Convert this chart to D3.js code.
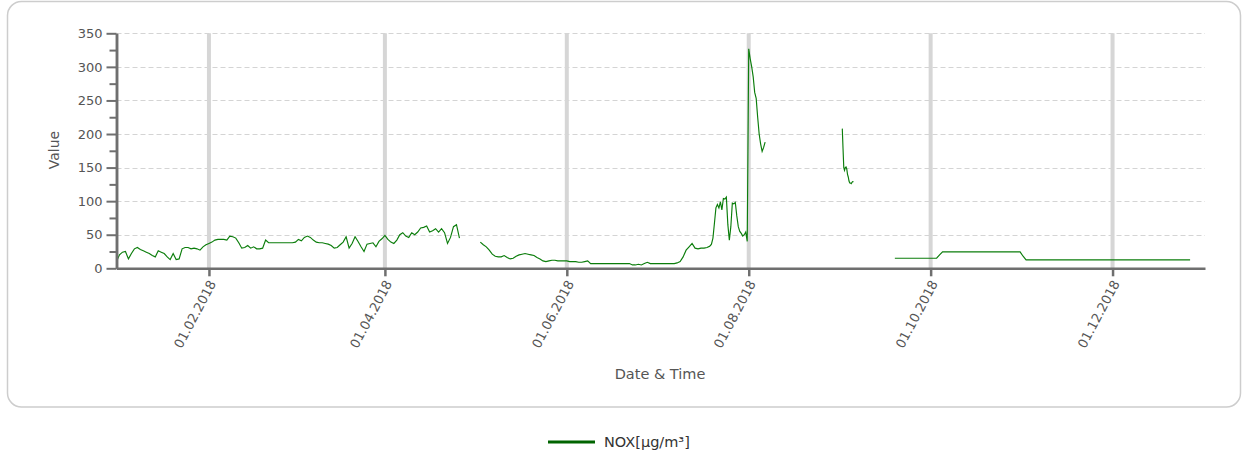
<!DOCTYPE html>
<html><head><meta charset="utf-8">
<script src="https://cdn.jsdelivr.net/npm/d3@7"></script>
<style>
body{margin:0;background:#fff;}
svg{display:block;font-family:"DejaVu Sans",Verdana,sans-serif;}
</style></head><body>
<svg id="chart" width="1248" height="460"></svg>
<script>
// ---------------- data ----------------
const seriesName = "NOX[µg/m³]";
const yAxisTitle = "Value";
const xAxisTitle = "Date & Time";
const xDomain = ["2018-01-01 00:00", "2019-01-01 00:00"];
const yMajorTicks = [0, 50, 100, 150, 200, 250, 300, 350];
const yMinorTicks = [25, 75, 125, 175, 225, 275, 325];
const xTickDates = ["2018-02-01 00:00", "2018-04-01 00:00", "2018-06-01 00:00", "2018-08-01 00:00", "2018-10-01 00:00", "2018-12-01 00:00"];
const xTickLabels = ["01.02.2018", "01.04.2018", "01.06.2018", "01.08.2018", "01.10.2018", "01.12.2018"];

// measurement segments: start time, sampling step (hours), values
const segmentStarts = ["2018-01-01 00:00", "2018-05-03 00:00", "2018-07-19 00:00", "2018-09-01 09:00", "2018-09-19 00:00"];
const segmentStepHours = [24, 24, 12, 6, 24];

const janAprValues = [
  10, 20, 24, 25, 14, 22, 29, 31, 28, 26,
  24, 22, 19, 17, 26, 24, 22, 17, 13, 22,
  13, 14, 29, 31, 31, 29, 30, 29, 27, 32,
  35, 37, 39, 42, 43, 43, 43, 42, 48, 47,
  45, 38, 30, 31, 34, 30, 32, 29, 29, 30,
  42, 38, 38, 38, 38, 38, 38, 38, 38, 38,
  39, 43, 41, 46, 48, 46, 42, 39, 38, 38,
  37, 36, 34, 30, 31, 35, 39, 47, 30, 37,
  47, 40, 32, 25, 36, 37, 38, 32, 40, 44,
  49, 43, 39, 37, 42, 50, 53, 48, 46, 53,
  50, 54, 60, 61, 63, 54, 56, 59, 54, 59,
  53, 37, 46, 62, 65, 45
];
const mayJulValues = [
  39, 35, 32, 27, 21, 18, 17, 17, 19, 16,
  14, 15, 18, 20, 21, 22, 21, 20, 19, 16,
  14, 11, 10, 11, 12, 12, 11, 11, 11, 11,
  10, 10, 10, 9, 9, 10, 11, 7, 7, 7,
  7, 7, 7, 7, 7, 7, 7, 7, 7, 7,
  7, 5, 5, 6, 5, 7, 9, 7, 7, 7,
  7, 7, 7, 7, 7, 7, 8, 10, 17, 27,
  32, 37, 30, 29, 30, 30, 31, 33
];
const julAugValues = [
  33, 36, 45, 67, 90, 95, 90, 99, 87, 104,
  103, 106, 65, 42, 62, 97, 96, 98, 78, 62,
  55, 52, 48, 50, 54, 40, 327, 312, 300, 285,
  262, 253, 225, 200, 185, 174, 180, 188
];
const sepValues = [208, 178, 150, 146, 150, 151, 148, 140, 136, 130, 127, 127, 126, 128, 129, 129];
const sepDecValues = [
  15, 15, 15, 15, 15, 15, 15, 15, 15, 15,
  15, 15, 15, 15, 15, 20, 24.5, 24.5, 24.5, 24.5,
  24.5, 24.5, 24.5, 24.5, 24.5, 24.5, 24.5, 24.5, 24.5, 24.5,
  24.5, 24.5, 24.5, 24.5, 24.5, 24.5, 24.5, 24.5, 24.5, 24.5,
  24.5, 24.5, 24.5, 18, 12.5, 12.5, 12.5, 12.5, 12.5, 12.5,
  12.5, 12.5, 12.5, 12.5, 12.5, 12.5, 12.5, 12.5, 12.5, 12.5,
  12.5, 12.5, 12.5, 12.5, 12.5, 12.5, 12.5, 12.5, 12.5, 12.5,
  12.5, 12.5, 12.5, 12.5, 12.5, 12.5, 12.5, 12.5, 12.5, 12.5,
  12.5, 12.5, 12.5, 12.5, 12.5, 12.5, 12.5, 12.5, 12.5, 12.5,
  12.5, 12.5, 12.5, 12.5, 12.5, 12.5, 12.5, 12.5, 12.5, 12.5
];
const segmentValues = [janAprValues, mayJulValues, julAugValues, sepValues, sepDecValues];

// ---------------- chart ----------------
const parse = d3.timeParse("%Y-%m-%d %H:%M");
const svg = d3.select("#chart");
const plot = {left: 116.5, right: 1205, top: 33.3, bottom: 268.3};
const textColor = "#555";
const axisColor = "#6f6f6f";

svg.append("rect").attr("x", 7.5).attr("y", 1.5).attr("width", 1233).attr("height", 405.5)
  .attr("rx", 14).attr("fill", "#fff").attr("stroke", "#cdcdcd").attr("stroke-width", 1.5);

const x = d3.scaleTime().domain(xDomain.map(parse)).range([plot.left, plot.right]);
const y = d3.scaleLinear().domain([0, 350]).range([plot.bottom, plot.top]);

// horizontal dashed grid
svg.append("g").selectAll("line").data(yMajorTicks.filter(d => d > 0)).join("line")
  .attr("x1", plot.left).attr("x2", plot.right)
  .attr("y1", d => Math.round(y(d)) + 0.5).attr("y2", d => Math.round(y(d)) + 0.5)
  .attr("stroke", "#d4d4d4").attr("stroke-dasharray", "5,3");

// vertical grid
const xTicks = xTickDates.map(parse);
svg.append("g").selectAll("line").data(xTicks).join("line")
  .attr("x1", d => x(d)).attr("x2", d => x(d))
  .attr("y1", plot.top).attr("y2", plot.bottom)
  .attr("stroke", "#d6d6d6").attr("stroke-width", 4);

// series
const line = d3.line().x(d => x(d.t)).y(d => y(d.v));
segmentStarts.forEach((s, i) => {
  const t0 = parse(s);
  const pts = segmentValues[i].map((v, k) => ({t: d3.timeHour.offset(t0, k * segmentStepHours[i]), v}));
  svg.append("path").datum(pts).attr("d", line)
    .attr("fill", "none").attr("stroke", "#0b7d0b").attr("stroke-width", 1.15)
    .attr("stroke-linejoin", "miter");
});

// y axis
const yMajor = svg.append("g").attr("transform", `translate(${plot.left},0)`)
  .call(d3.axisLeft(y).tickValues(yMajorTicks).tickSize(10).tickPadding(4).tickSizeOuter(0));
const yMinor = svg.append("g").attr("transform", `translate(${plot.left},0)`)
  .call(d3.axisLeft(y).tickValues(yMinorTicks).tickSize(7).tickFormat("").tickSizeOuter(0));
[yMajor, yMinor].forEach(g => {
  g.selectAll("line").attr("stroke", axisColor).attr("stroke-width", 2);
  g.select(".domain").attr("stroke", axisColor).attr("stroke-width", 2.5);
});
yMajor.selectAll("text").attr("fill", textColor).attr("font-size", 13)
  .attr("font-family", "DejaVu Sans, sans-serif");

// x axis
const xAxis = svg.append("g").attr("transform", `translate(0,${plot.bottom})`)
  .call(d3.axisBottom(x).tickValues(xTicks).tickSize(8).tickFormat((d, i) => xTickLabels[i]).tickSizeOuter(0));
xAxis.select(".domain").attr("stroke", axisColor).attr("stroke-width", 2.5);
xAxis.selectAll(".tick line").attr("stroke", axisColor).attr("stroke-width", 2.5);
xAxis.selectAll("text").attr("fill", textColor).attr("font-size", 13)
  .attr("font-family", "DejaVu Sans, sans-serif")
  .attr("text-anchor", "end").attr("dy", "0.35em")
  .attr("transform", "translate(3,13) rotate(-62)").attr("x", 0).attr("y", 0);

// titles
svg.append("text").attr("transform", "translate(59,150) rotate(-90)")
  .attr("text-anchor", "middle").attr("fill", textColor).attr("font-size", 14).text(yAxisTitle);
svg.append("text").attr("x", 660).attr("y", 379)
  .attr("text-anchor", "middle").attr("fill", textColor).attr("font-size", 14.5).text(xAxisTitle);

// legend
const lg = svg.append("g").attr("transform", "translate(548,442)");
lg.append("line").attr("x1", 0).attr("x2", 47).attr("y1", 0).attr("y2", 0)
  .attr("stroke", "#006400").attr("stroke-width", 3);
lg.append("text").attr("x", 56).attr("y", 0).attr("dy", "0.35em")
  .attr("fill", "#333").attr("font-size", 14.5).text(seriesName);
</script>
</body></html>
